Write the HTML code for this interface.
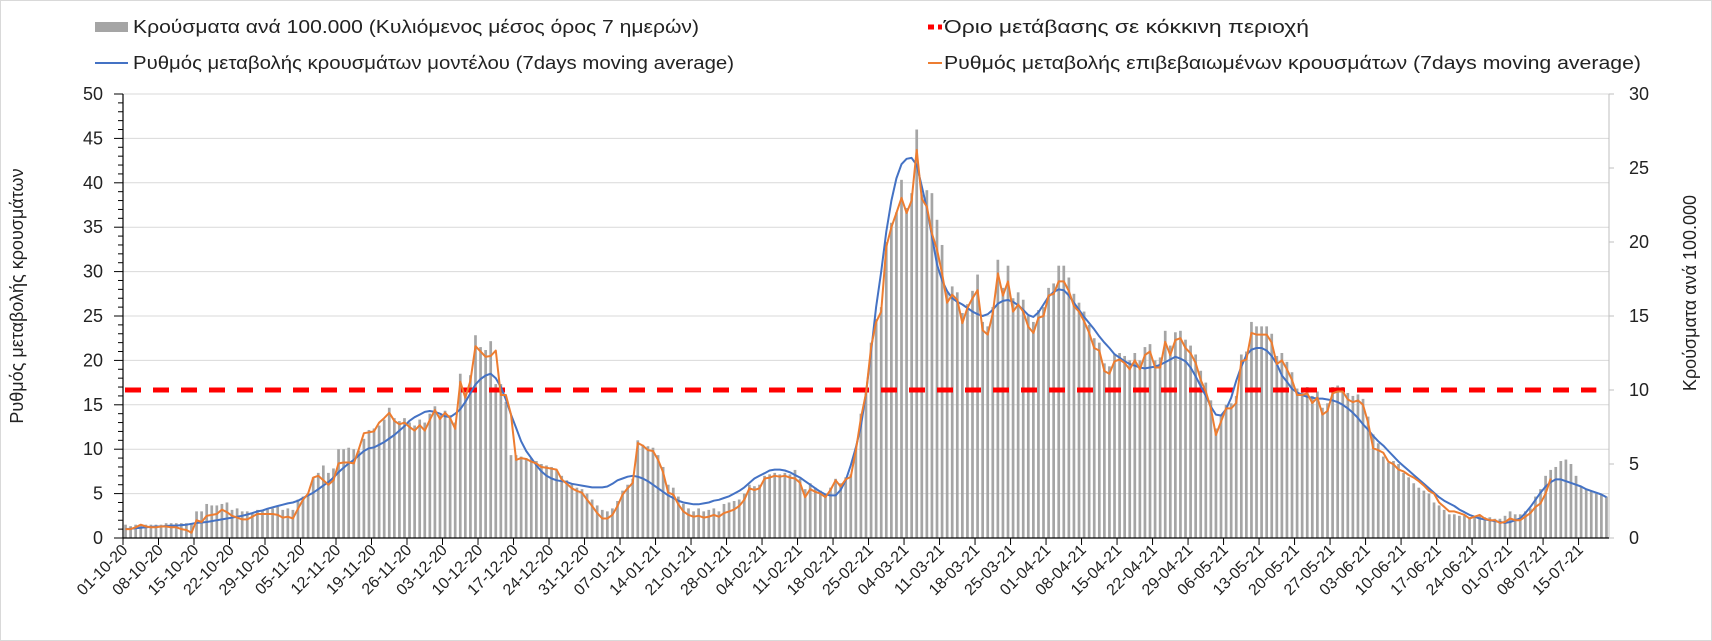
<!DOCTYPE html>
<html><head><meta charset="utf-8">
<style>
html,body{margin:0;padding:0;background:#fff;}
svg{display:block;font-family:"Liberation Sans",Arial,sans-serif;}
</style></head>
<body>
<svg id="chart" width="1712" height="641" viewBox="0 0 1712 641" xmlns="http://www.w3.org/2000/svg">
<rect x="0.5" y="0.5" width="1711" height="640" fill="#fff" stroke="#d9d9d9"/>
<g id="grid"></g>
<g id="bars"></g>
<g id="lines"></g>
<g id="axes"></g>
<g>
  <g>
    <rect x="95" y="22" width="33" height="10" fill="#a5a5a5"/>
    <text x="133" y="33" font-size="18" fill="#222" textLength="566" lengthAdjust="spacingAndGlyphs">Κρούσματα ανά 100.000 (Κυλιόμενος μέσος όρος 7 ημερών)</text>
  </g>
  <g>
    <line x1="95" y1="63" x2="128" y2="63" stroke="#4472c4" stroke-width="2"/>
    <text x="133" y="69" font-size="18" fill="#222" textLength="601" lengthAdjust="spacingAndGlyphs">Ρυθμός μεταβολής κρουσμάτων μοντέλου (7days moving average)</text>
  </g>
  <g>
    <line x1="928" y1="27" x2="942" y2="27" stroke="#ff0000" stroke-width="5" stroke-dasharray="6,4"/>
    <text x="944" y="33" font-size="18" fill="#222" textLength="365" lengthAdjust="spacingAndGlyphs">Όριο μετάβασης σε κόκκινη περιοχή</text>
  </g>
  <g>
    <line x1="928" y1="63" x2="942" y2="63" stroke="#ed7d31" stroke-width="2"/>
    <text x="944" y="69" font-size="18" fill="#222" textLength="697" lengthAdjust="spacingAndGlyphs">Ρυθμός μεταβολής επιβεβαιωμένων κρουσμάτων (7days moving average)</text>
  </g>
</g>
<text transform="translate(23,296) rotate(-90)" text-anchor="middle" font-size="18" fill="#222">Ρυθμός μεταβολής κρουσμάτων</text>
<text transform="translate(1696,293) rotate(-90)" text-anchor="middle" font-size="18" fill="#222">Κρούσματα ανά 100.000</text>
</svg>
<script>
const barValues = [
0.9,0.8,0.9,0.9,0.9,0.9,0.9, 0.9,1.0,1.0,1.0,1.0,1.0,1.0,
1.8,1.8,2.3,2.2,2.2,2.3,2.4, 1.9,2.0,1.8,1.8,1.7,1.9,1.9,
2.0,2.0,2.1,1.9,2.0,1.9,2.6, 2.8,3.0,4.1,4.4,4.9,4.4,4.7,
6.0,6.0,6.1,6.0,5.9,6.7,7.3, 7.4,7.6,8.0,8.8,8.1,7.9,8.1,
7.8,7.6,8.0,7.8,8.4,8.9,8.3, 8.6,8.3,7.8,11.1,9.8,11.0,13.7,
12.9,12.7,13.3,10.4,10.4,9.2,5.6, 5.6,5.5,5.4,5.4,5.2,5.0,4.9,
4.8,4.6,4.2,3.9,3.7,3.4,3.3, 3.0,2.6,2.2,1.9,1.8,2.0,2.5,
3.2,3.6,4.0,6.6,6.3,6.2,6.1, 5.6,4.8,3.6,3.4,2.8,2.3,2.0,
1.8,2.0,1.8,1.9,2.0,1.8,2.3, 2.4,2.5,2.6,3.0,3.6,3.5,3.6,
4.2,4.3,4.4,4.3,4.4,4.3,4.6, 4.0,3.3,3.7,3.4,3.2,3.0,3.4,
4.0,3.7,4.1,4.3,6.1,8.4,10.0, 13.2,14.8,15.6,20.0,21.3,22.0,24.2,
22.3,23.3,27.6,23.2,23.5,23.3,21.5, 19.8,16.6,17.0,16.6,15.2,15.8,16.7,
17.8,14.6,14.3,15.6,18.8,16.9,18.4, 16.2,16.6,16.1,15.0,14.6,15.4,15.6,
16.9,17.2,18.4,18.4,17.6,16.5,15.9, 15.3,14.4,13.5,13.2,11.8,11.6,12.4,
12.5,12.3,12.0,12.5,12.0,12.9,13.1, 12.0,12.2,14.0,13.0,13.9,14.0,13.4,
13.0,12.4,11.3,10.5,9.3,7.4,8.3, 9.0,9.1,9.6,12.4,12.6,14.6,14.3,
14.3,14.3,13.8,12.3,12.5,11.9,11.2, 10.1,10.1,10.2,9.6,9.9,8.8,9.1,
10.2,10.3,10.2,9.8,9.6,9.7,9.4, 8.2,7.0,6.4,5.5,5.1,5.2,5.0,
4.4,4.1,3.7,3.4,3.2,3.0,2.4, 2.2,1.9,1.6,1.6,1.5,1.5,1.4,
1.4,1.5,1.4,1.4,1.3,1.3,1.5, 1.8,1.6,1.6,1.8,2.0,2.8,3.3,
4.2,4.6,4.8,5.2,5.3,5.0,4.2, 3.5,3.3,3.2,3.0,2.9,2.8
];
const modelRate = [
1.0,1.05,1.1,1.15,1.2,1.25,1.3, 1.3,1.35,1.4,1.4,1.45,1.5,1.6,
1.7,1.75,1.8,1.9,2.0,2.1,2.2, 2.3,2.4,2.5,2.65,2.8,3.0,3.1,
3.3,3.45,3.6,3.75,3.9,4.0,4.2, 4.5,4.8,5.1,5.5,5.9,6.3,6.8,
7.4,7.9,8.4,8.8,9.3,9.8,10.1, 10.2,10.5,10.8,11.2,11.6,12.1,12.6,
13.2,13.6,13.9,14.2,14.3,14.2,14.0, 13.7,13.6,14.0,14.5,15.3,16.3,17.3,
17.9,18.3,18.5,18.0,17.0,15.6,13.9, 12.4,10.9,9.8,9.0,8.2,7.5,7.0,
6.7,6.5,6.4,6.3,6.1,6.0,5.9, 5.8,5.7,5.7,5.7,5.8,6.1,6.5,
6.7,6.9,7.0,6.9,6.7,6.4,6.0, 5.6,5.2,4.8,4.5,4.2,4.0,3.9,
3.8,3.8,3.9,4.0,4.2,4.3,4.5, 4.7,5.0,5.3,5.7,6.2,6.7,7.0,
7.3,7.6,7.7,7.7,7.6,7.4,7.1, 6.8,6.4,6.0,5.6,5.2,4.9,4.8,
4.8,5.4,6.5,8.2,10.2,12.6,16.3, 21.0,26.0,30.0,34.5,38.0,40.5,42.1,
42.7,42.8,42.0,39.6,37.1,34.0,30.8, 29.0,27.8,27.0,26.6,26.3,25.9,25.5,
25.2,25.0,25.2,25.7,26.4,26.7,26.8, 26.6,26.2,25.7,25.1,24.9,25.4,26.3,
27.2,27.7,28.0,27.9,27.3,26.5,25.7, 24.9,24.2,23.5,22.7,22.0,21.4,20.7,
20.3,19.9,19.6,19.4,19.2,19.1,19.2, 19.3,19.5,19.8,20.1,20.4,20.2,19.9,
19.2,18.2,17.1,16.0,14.8,13.9,13.8, 14.5,15.8,17.7,19.3,20.6,21.2,21.4,
21.4,21.1,20.5,19.6,18.3,17.6,16.8, 16.4,16.1,15.9,15.8,15.7,15.7,15.6,
15.5,15.3,15.0,14.6,14.1,13.5,12.8, 12.2,11.5,10.9,10.4,9.8,9.2,8.6,
8.1,7.6,7.1,6.6,6.1,5.6,5.1, 4.6,4.2,3.9,3.6,3.2,2.9,2.6,
2.4,2.2,2.1,2.0,1.9,1.8,1.7, 1.8,2.0,2.2,2.8,3.5,4.3,5.1,
5.8,6.3,6.6,6.6,6.4,6.2,6.0, 5.8,5.5,5.3,5.1,4.9,4.6
];
const confirmedRate = [
1.0,1.0,1.2,1.5,1.3,1.2,1.2, 1.3,1.3,1.2,1.2,1.0,0.9,0.6,
2.0,1.8,2.5,2.6,2.7,3.2,2.9, 2.5,2.3,2.1,2.1,2.4,2.7,2.7,
2.7,2.7,2.6,2.3,2.4,2.2,3.3, 4.3,5.0,6.8,7.0,6.5,6.0,6.5,
8.4,8.5,8.5,8.4,10.0,11.8,11.9, 12.0,13.0,13.5,14.1,13.2,12.8,13.0,
12.5,12.1,12.7,12.1,13.3,14.4,13.4, 14.1,13.5,12.3,17.6,15.8,17.7,21.6,
21.0,20.4,20.5,21.1,16.1,16.1,13.9, 8.8,9.0,8.9,8.6,8.4,8.0,7.9,
7.8,7.7,6.6,6.1,5.6,5.3,5.1, 4.3,3.6,2.8,2.2,2.2,2.6,3.6,
4.9,5.6,6.2,10.7,10.4,9.9,9.8, 8.8,7.4,5.1,4.9,3.8,3.0,2.6,
2.4,2.5,2.3,2.4,2.6,2.4,2.8, 3.0,3.2,3.6,4.3,5.6,5.4,5.6,
6.7,6.8,7.0,6.9,7.0,6.8,6.7, 6.2,4.6,5.5,5.2,5.0,4.6,5.4,
6.5,5.8,6.6,6.9,9.9,13.5,16.3, 21.5,24.3,25.5,32.8,35.0,36.6,38.3,
36.6,38.0,43.7,38.2,37.3,34.3,32.5, 29.8,26.5,27.4,26.8,24.2,25.9,27.0,
27.9,23.4,22.9,25.3,29.8,27.3,28.9, 25.5,26.3,25.5,23.8,23.1,24.8,25.0,
27.3,27.5,28.9,28.9,27.8,26.1,25.5, 24.4,23.1,21.4,21.1,18.8,18.5,19.9,
20.1,19.7,19.0,20.0,19.0,20.6,21.0, 19.2,19.2,22.1,20.6,22.3,22.5,21.4,
20.8,19.7,17.8,16.5,14.6,11.6,13.1, 14.6,14.6,15.2,19.9,20.1,23.1,22.9,
22.9,22.9,22.0,19.6,20.0,19.0,17.8, 16.1,16.1,16.3,15.2,15.8,13.9,14.3,
16.3,16.5,16.5,15.6,15.3,15.5,15.0, 13.0,10.1,9.9,9.6,8.6,8.3,7.7,
7.5,7.1,6.8,6.4,5.9,5.3,5.0, 4.0,3.5,3.0,3.0,2.8,2.6,2.2,
2.4,2.6,2.2,2.0,2.0,1.7,1.8, 2.2,2.0,2.0,2.4,2.8,3.5,3.9,
5.0,6.7
];
const thresholdValue = [16.67];
const dateLabels = ["01-10-20","08-10-20","15-10-20","22-10-20","29-10-20","05-11-20","12-11-20","19-11-20","26-11-20","03-12-20","10-12-20","17-12-20","24-12-20","31-12-20","07-01-21","14-01-21","21-01-21","28-01-21","04-02-21","11-02-21","18-02-21","25-02-21","04-03-21","11-03-21","18-03-21","25-03-21","01-04-21","08-04-21","15-04-21","22-04-21","29-04-21","06-05-21","13-05-21","20-05-21","27-05-21","03-06-21","10-06-21","17-06-21","24-06-21","01-07-21","08-07-21","15-07-21"];
const leftTicks = [0,5,10,15,20,25,30,35,40,45,50];
const rightTicks = [0,5,10,15,20,25,30];

const NS = "http://www.w3.org/2000/svg";
const X0 = 123, X1 = 1609, Y0 = 538, YT = 94;
const N = 293;
const band = (X1 - X0) / N;
const xC = i => X0 + (i + 0.5) * band;
const xB = i => X0 + i * band;
const yL = v => Y0 - v / 50 * (Y0 - YT);
const yR = v => Y0 - v / 30 * (Y0 - YT);
function mk(tag, attrs, parent) {
  const e = document.createElementNS(NS, tag);
  for (const k in attrs) e.setAttribute(k, attrs[k]);
  parent.appendChild(e);
  return e;
}
const grid = document.getElementById('grid');
const bars = document.getElementById('bars');
const lines = document.getElementById('lines');
const axes = document.getElementById('axes');

leftTicks.forEach(v => {
  if (v === 0) return;
  const g = mk('line', {x1: X0, x2: X1, y1: yL(v), y2: yL(v), stroke: '#d9d9d9', 'stroke-width': 1}, grid);
  
  
});

barValues.forEach((v, i) => {
  const r = mk('rect', {x: xC(i) - 1.35, y: yR(v), width: 2.7, height: Y0 - yR(v), fill: '#a5a5a5'}, bars);
  
  
});

const th = mk('line', {x1: X0 + 2, x2: xC(N - 3), y1: yL(thresholdValue[0]), y2: yL(thresholdValue[0]), stroke: '#ff0000', 'stroke-width': 5, 'stroke-dasharray': '16,12'}, lines);



const bl = mk('polyline', {points: modelRate.map((v, i) => xC(i).toFixed(1) + ',' + yL(v).toFixed(1)).join(' '), fill: 'none', stroke: '#4472c4', 'stroke-width': 2, 'stroke-linejoin': 'round'}, lines);



const ol = mk('polyline', {points: confirmedRate.map((v, i) => xC(i).toFixed(1) + ',' + yL(v).toFixed(1)).join(' '), fill: 'none', stroke: '#ed7d31', 'stroke-width': 2, 'stroke-linejoin': 'round'}, lines);



const la = mk('line', {x1: X0, x2: X0, y1: YT, y2: Y0, stroke: '#000', 'stroke-width': 1.2}, axes);


const ra = mk('line', {x1: X1, x2: X1, y1: YT, y2: Y0, stroke: '#bfbfbf', 'stroke-width': 1}, axes);


const xa = mk('line', {x1: X0, x2: X1, y1: Y0, y2: Y0, stroke: '#000', 'stroke-width': 1.2}, axes);



for (let v = 0; v <= 50; v++) {
  const major = v % 5 === 0;
  mk('line', {x1: major ? X0 - 9 : X0 - 5, x2: X0, y1: yL(v), y2: yL(v), stroke: '#000', 'stroke-width': 1}, axes);
}
leftTicks.forEach(v => {
  const t = mk('text', {x: 103, y: yL(v) + 6, 'text-anchor': 'end', 'font-size': 18, fill: '#222'}, axes);
  t.textContent = v;
  
  
});
rightTicks.forEach(v => {
  mk('line', {x1: X1, x2: X1 + 5, y1: yR(v), y2: yR(v), stroke: '#bfbfbf', 'stroke-width': 1}, axes);
  const t = mk('text', {x: 1629, y: yR(v) + 6, 'font-size': 18, fill: '#222'}, axes);
  t.textContent = v;
  
  
});
dateLabels.forEach((s, k) => {
  const d = k * 7;
  mk('line', {x1: xB(d), x2: xB(d), y1: Y0, y2: Y0 + 7, stroke: '#000', 'stroke-width': 1}, axes);
  const ax = xC(d) + 3, ay = 551;
  const t = mk('text', {x: ax, y: ay, 'text-anchor': 'end', 'font-size': 16, fill: '#222', transform: 'rotate(-45 ' + ax + ' ' + ay + ')'}, axes);
  t.textContent = s;
  
  
});
</script>
</body></html>
